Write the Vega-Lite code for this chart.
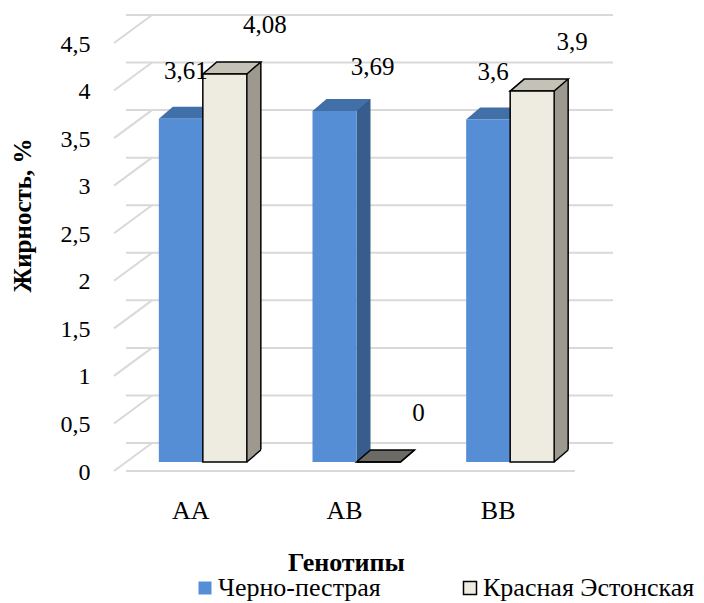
{
  "$schema": "https://vega.github.io/schema/vega-lite/v6.json",
  "width": 461,
  "height": 428,
  "autosize": {"type": "none"},
  "padding": {"left": 126, "top": 34, "right": 117, "bottom": 141},
  "background": "white",
  "config": {"view": {"stroke": null}, "font": "Liberation Serif"},
  "datasets": {
    "bars": [
      {"g": "AA", "s": "Черно-пестрая", "v": 3.61},
      {"g": "AA", "s": "Красная Эстонская", "v": 4.08},
      {"g": "AB", "s": "Черно-пестрая", "v": 3.69},
      {"g": "AB", "s": "Красная Эстонская", "v": 0},
      {"g": "BB", "s": "Черно-пестрая", "v": 3.6},
      {"g": "BB", "s": "Красная Эстонская", "v": 3.9}
    ],
    "grid": [
      {"v": 0}, {"v": 0.5}, {"v": 1}, {"v": 1.5}, {"v": 2},
      {"v": 2.5}, {"v": 3}, {"v": 3.5}, {"v": 4}, {"v": 4.5}
    ]
  },
  "encoding": {
    "y": {
      "field": "v", "type": "quantitative", "scale": {"domain": [0, 4.5], "nice": false},
      "axis": {
        "title": "Жирность, %", "titleFont": "Liberation Serif", "titleFontWeight": "bold", "titleFontSize": 25,
        "titleColor": "black", "titleX": -104, "titleY": 181, "titleAngle": -90, "titleAlign": "center", "titleBaseline": "middle",
        "labelFont": "Liberation Serif", "labelFontSize": 24, "labelColor": "black",
        "labelPadding": 36, "labelOffset": 10, "ticks": false, "tickSize": 0, "domain": false, "grid": false,
        "values": [0, 0.5, 1, 1.5, 2, 2.5, 3, 3.5, 4, 4.5],
        "labelExpr": "replace(format(datum.value, '~g'), '.', ',')"
      }
    }
  },
  "layer": [
    {
      "data": {"name": "grid"},
      "mark": {"type": "rule", "color": "#d9d9d9", "strokeWidth": 2, "xOffset": 26, "x2Offset": 27, "yOffset": -19}
    },
    {
      "data": {"name": "grid"},
      "mark": {"type": "rule", "color": "#d9d9d9", "strokeWidth": 2, "xOffset": -12, "x2Offset": 26, "yOffset": 9, "y2Offset": -19},
      "encoding": {
        "x": {"value": 0},
        "x2": {"value": 0},
        "y2": {"field": "v"}
      }
    },
    {
      "data": {"name": "grid"},
      "transform": [{"filter": "datum.v === 0"}],
      "mark": {"type": "rule", "color": "#d9d9d9", "strokeWidth": 2, "xOffset": -12, "x2Offset": -10, "yOffset": 9}
    },
    {
      "data": {"name": "bars"},
      "transform": [{"calculate": "replace(format(datum.v, '~g'), '.', ',')", "as": "lbl"}],
      "encoding": {
        "x": {
          "field": "g", "type": "nominal", "sort": ["AA", "AB", "BB"],
          "scale": {"paddingInner": 0.427, "paddingOuter": 0.2135},
          "axis": {
            "title": "Генотипы", "titleFont": "Liberation Serif", "titleFontWeight": "bold", "titleFontSize": 26,
            "titleColor": "black", "titleX": 220, "titleY": 100, "titleAlign": "center", "titleBaseline": "middle",
            "labelFont": "Liberation Serif", "labelFontSize": 26, "labelColor": "black", "labelAngle": 0,
            "labelPadding": 48, "labelOffset": -12, "labelBaseline": "middle",
            "ticks": false, "tickSize": 0, "domain": false, "grid": false
          }
        }
      },
      "layer": [
        {
          "transform": [{"filter": "datum.s === 'Черно-пестрая'"}],
          "mark": {"type": "rule", "strokeWidth": 14, "strokeCap": "butt", "color": "#385C8C", "xOffset": 7, "yOffset": -12},
          "encoding": {"y2": {"datum": 0}}
        },
        {
          "transform": [{"filter": "datum.s === 'Красная Эстонская'"}],
          "mark": {"type": "rule", "strokeWidth": 14, "strokeCap": "butt", "color": "#9D998F", "xOffset": 51, "yOffset": -12},
          "encoding": {"y2": {"datum": 0}}
        },
        {
          "transform": [{"filter": "datum.s === 'Красная Эстонская'"}],
          "mark": {"type": "rule", "strokeWidth": 1.5, "color": "black", "xOffset": 58, "yOffset": -12, "y2Offset": -12},
          "encoding": {"y2": {"datum": 0}}
        },
        {
          "transform": [{"filter": "datum.s === 'Черно-пестрая'"}],
          "mark": {"type": "point", "shape": "M 20.8 1 L 37.5 -13.3 L 37.5 1 Z", "size": 4, "filled": true, "fill": "white", "strokeWidth": 0, "opacity": 1, "xOffset": -22},
          "encoding": {"y": {"datum": 0}}
        },
        {
          "transform": [{"filter": "datum.s === 'Красная Эстонская'"}],
          "mark": {"type": "point", "shape": "M 20.8 1 L 37.5 -13.3 L 37.5 1 Z", "size": 4, "filled": true, "fill": "white", "strokeWidth": 0, "opacity": 1, "xOffset": 22},
          "encoding": {"y": {"datum": 0}}
        },
        {
          "transform": [{"filter": "datum.s === 'Черно-пестрая'"}],
          "mark": {"type": "point", "shape": "M -22 0 L 22 0 L 36 -12 L -8 -12 Z", "size": 4, "filled": true, "fill": "#4170A8", "strokeWidth": 0, "opacity": 1, "xOffset": -22}
        },
        {
          "transform": [{"filter": "datum.s === 'Красная Эстонская'"}],
          "mark": {"type": "point", "shape": "M -22 0 L 22 0 L 36 -12 L -8 -12 Z", "size": 4, "filled": true, "stroke": "black", "strokeWidth": 1.5, "opacity": 1, "xOffset": 22},
          "encoding": {
            "fill": {"condition": {"test": "datum.v === 0", "value": "#6B6A64"}, "value": "#C4C1B7"}
          }
        },
        {
          "transform": [{"filter": "datum.s === 'Красная Эстонская'"}],
          "mark": {"type": "point", "shape": "M 22 0 L 36 -12", "size": 4, "filled": false, "stroke": "black", "strokeWidth": 1.5, "opacity": 1, "xOffset": 22},
          "encoding": {"y": {"datum": 0}}
        },
        {
          "transform": [{"filter": "datum.s === 'Черно-пестрая'"}],
          "mark": {"type": "bar", "width": 44, "xOffset": -22, "strokeWidth": 1.5},
          "encoding": {
            "y2": {"datum": 0},
            "fill": {
              "field": "s", "type": "nominal",
              "scale": {"domain": ["Черно-пестрая", "Красная Эстонская"], "range": ["#558ED5", "#EEECE1"]},
              "legend": {
                "title": null, "orient": "none", "legendX": 66, "legendY": 541, "direction": "horizontal",
                "symbolType": "square", "symbolSize": 169, "symbolStrokeWidth": 1.5,
                "labelFont": "Liberation Serif", "labelFontSize": 26, "labelColor": "black",
                "labelOffset": 0, "columnPadding": 76, "padding": 0, "labelLimit": 400
              }
            },
            "stroke": {
              "field": "s", "type": "nominal",
              "scale": {"domain": ["Черно-пестрая", "Красная Эстонская"], "range": ["transparent", "#000000"]}
            }
          }
        },
        {
          "transform": [{"filter": "datum.s === 'Красная Эстонская'"}],
          "mark": {"type": "bar", "width": 44, "xOffset": 22, "strokeWidth": 1.5},
          "encoding": {
            "y2": {"datum": 0},
            "fill": {
              "field": "s", "type": "nominal",
              "scale": {"domain": ["Черно-пестрая", "Красная Эстонская"], "range": ["#558ED5", "#EEECE1"]},
              "legend": {
                "title": null, "orient": "none", "legendX": 66, "legendY": 541, "direction": "horizontal",
                "symbolType": "square", "symbolSize": 169, "symbolStrokeWidth": 1.5,
                "labelFont": "Liberation Serif", "labelFontSize": 26, "labelColor": "black",
                "labelOffset": 0, "columnPadding": 76, "padding": 0, "labelLimit": 400
              }
            },
            "stroke": {
              "field": "s", "type": "nominal",
              "scale": {"domain": ["Черно-пестрая", "Красная Эстонская"], "range": ["transparent", "#000000"]}
            }
          }
        },
        {
          "transform": [{"filter": "datum.s === 'Черно-пестрая' && datum.g !== 'AB'"}],
          "mark": {"type": "text", "font": "Liberation Serif", "fontSize": 25, "color": "black", "align": "center", "baseline": "middle", "dx": -17, "dy": -48},
          "encoding": {"text": {"field": "lbl"}}
        },
        {
          "transform": [{"filter": "datum.s === 'Черно-пестрая' && datum.g === 'AB'"}],
          "mark": {"type": "text", "font": "Liberation Serif", "fontSize": 25, "color": "black", "align": "center", "baseline": "middle", "dx": 16, "dy": -44},
          "encoding": {"text": {"field": "lbl"}}
        },
        {
          "transform": [{"filter": "datum.s === 'Красная Эстонская'"}],
          "mark": {"type": "text", "font": "Liberation Serif", "fontSize": 25, "color": "black", "align": "center", "baseline": "middle", "dx": 62, "dy": -49},
          "encoding": {"text": {"field": "lbl"}}
        }
      ]
    }
  ]
}
